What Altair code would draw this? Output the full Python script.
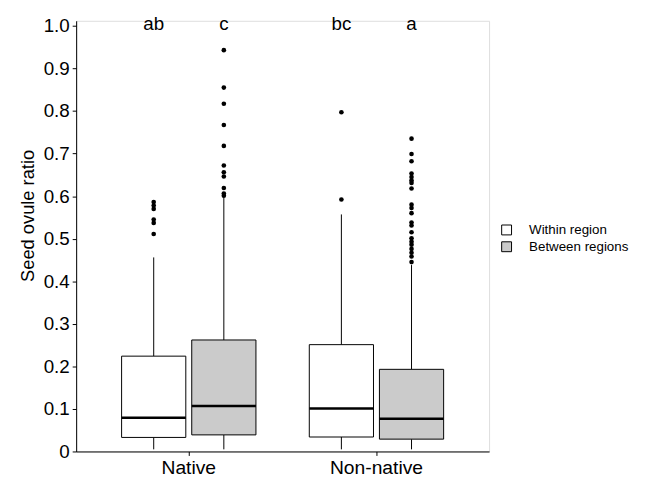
import altair as alt
import pandas as pd

# ---- data ----
groups = ["Native", "Native", "Non-native", "Non-native"]
regions = ["Within region", "Between regions", "Within region", "Between regions"]
lower = [0.005, 0.005, 0.005, 0.005]
q1 = [0.033, 0.039, 0.034, 0.029]
median = [0.079, 0.107, 0.101, 0.077]
q3 = [0.224, 0.262, 0.251, 0.193]
upper = [0.456, 0.597, 0.557, 0.438]
letters = ["ab", "c", "bc", "a"]

out_native_within = [0.511, 0.537, 0.545, 0.570, 0.578, 0.586]
out_native_between = [0.601, 0.606, 0.619, 0.646, 0.656, 0.672, 0.718, 0.767, 0.817, 0.855, 0.943]
out_nonnative_within = [0.592, 0.797]
out_nonnative_between = [0.445, 0.458, 0.467, 0.476, 0.486, 0.493, 0.501, 0.515, 0.531, 0.538,
                         0.560, 0.572, 0.580, 0.618, 0.631, 0.637, 0.645, 0.653, 0.682, 0.699, 0.735]

region_order = ["Within region", "Between regions"]
fill_colors = ["#ffffff", "#cbcbcb"]
FONT = "Liberation Sans"

stats = pd.DataFrame({
    "group": groups, "region": regions, "lower": lower, "q1": q1,
    "median": median, "q3": q3, "upper": upper, "letter": letters,
})

outliers = []
for g, r, vals in [("Native", "Within region", out_native_within),
                   ("Native", "Between regions", out_native_between),
                   ("Non-native", "Within region", out_nonnative_within),
                   ("Non-native", "Between regions", out_nonnative_between)]:
    for v in vals:
        outliers.append({"group": g, "region": r, "value": v})
outliers = pd.DataFrame(outliers)

x_enc = alt.X("group:N", title=None,
              scale=alt.Scale(paddingInner=0, paddingOuter=0.1),
              axis=alt.Axis(labelAngle=0, labelFontSize=19.5, labelColor="black",
                            tickColor="black", tickSize=4, labelPadding=3,
                            domainColor="black"))
xo_enc = alt.XOffset("region:N",
                     scale=alt.Scale(domain=region_order, paddingInner=0, paddingOuter=0.338))
y_scale = alt.Scale(domain=[0, 1.012], nice=False, zero=True)

base = alt.Chart(stats).encode(x=x_enc, xOffset=xo_enc)

whisk_lo = base.mark_rule(color="black", strokeWidth=1).encode(
    y=alt.Y("lower:Q", scale=y_scale,
            title="Seed ovule ratio",
            axis=alt.Axis(values=[i / 10 for i in range(11)],
                          labelExpr="datum.value == 0 ? '0' : format(datum.value, '.1f')",
                          labelFontSize=19, labelColor="black", tickColor="black",
                          tickSize=4, labelPadding=3, domainColor="black",
                          titleFontSize=18.5, titleFontWeight="normal", titleColor="black",
                          titlePadding=6, titleY=197, grid=False)),
    y2="q1:Q")
whisk_hi = base.mark_rule(color="black", strokeWidth=1).encode(y="q3:Q", y2="upper:Q")

boxes = base.mark_bar(size=65, stroke="black", strokeWidth=1).encode(
    y="q1:Q", y2="q3:Q",
    fill=alt.Fill("region:N", scale=alt.Scale(domain=region_order, range=fill_colors),
                  legend=alt.Legend(title=None, orient="none", legendX=429, legendY=205,
                                    symbolType="square", symbolSize=100,
                                    symbolStrokeColor="black", symbolStrokeWidth=1,
                                    labelFontSize=13.5, labelColor="black", labelOffset=16,
                                    rowPadding=2, padding=0)))

medians = base.mark_tick(color="black", thickness=2.5, size=65, opacity=1).encode(y="median:Q")

texts = base.mark_text(fontSize=19, color="black", baseline="middle", font=FONT).encode(
    y=alt.datum(1.005), text="letter:N")

points = alt.Chart(outliers).mark_circle(size=22, color="black", opacity=1).encode(
    x=x_enc, xOffset=xo_enc, y="value:Q")

chart = alt.layer(whisk_lo, whisk_hi, boxes, medians, points, texts).properties(
    width=418, height=436,
    autosize=alt.AutoSizeParams(type="none"),
    padding={"left": 69, "top": 10, "right": 170, "bottom": 31},
).configure_view(
    stroke="#222222", strokeWidth=1.3
).configure(font=FONT).configure_axis(grid=False)

chart.save("out.html", embed_options={"renderer": "svg", "actions": False})
